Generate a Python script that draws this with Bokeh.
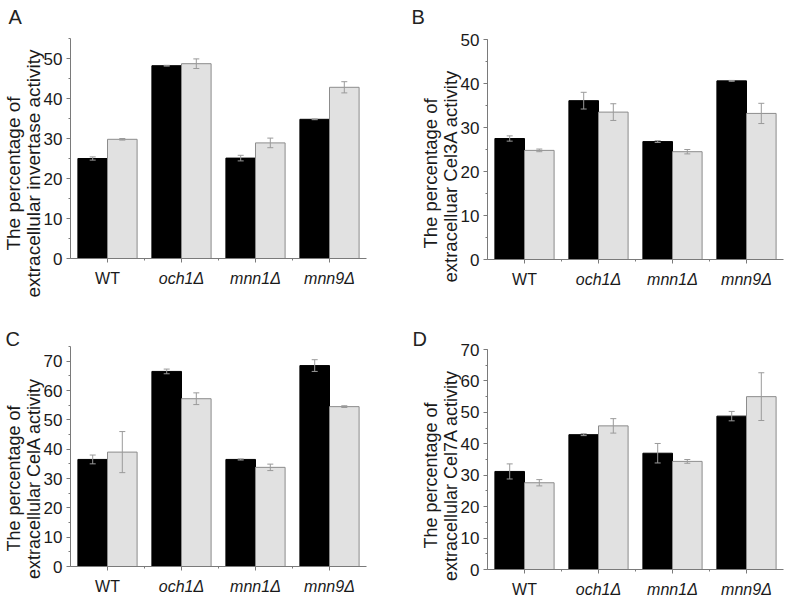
import numpy as np
from bokeh.plotting import figure
from bokeh.models import (Whisker, TeeHead, ColumnDataSource, FixedTicker,
                          SingleIntervalTicker, Range1d)
from bokeh.core.properties import value
from bokeh.layouts import column, row
from bokeh.embed import file_html
from bokeh.resources import INLINE

# ---------------- data ----------------
strains = ["WT", "och1\u0394", "mnn1\u0394", "mnn9\u0394"]
strain_italic = [False, True, True, True]

inv_black = [25.0, 48.2, 25.1, 34.8]
inv_black_err = [0.4, 0.1, 0.7, 0.1]
inv_gray = [29.8, 48.7, 28.9, 42.8]
inv_gray_err = [0.2, 1.2, 1.2, 1.4]

cel3a_black = [27.5, 36.1, 26.8, 40.6]
cel3a_black_err = [0.6, 1.9, 0.2, 0.1]
cel3a_gray = [24.8, 33.5, 24.5, 33.2]
cel3a_gray_err = [0.3, 1.9, 0.5, 2.3]

cela_black = [36.5, 66.5, 36.5, 68.5]
cela_black_err = [1.5, 0.8, 0.2, 2.0]
cela_gray = [39.0, 57.2, 33.8, 54.5]
cela_gray_err = [7.0, 2.0, 1.1, 0.3]

cel7a_black = [31.2, 42.9, 37.0, 48.8]
cel7a_black_err = [2.4, 0.3, 3.1, 1.5]
cel7a_gray = [27.6, 45.7, 34.4, 55.0]
cel7a_gray_err = [1.0, 2.3, 0.6, 7.6]

panel_letters = ["A", "B", "C", "D"]
ylabel_line1 = "The percentage of"
ylabel_line2 = ["extracellular invertase activity", "extracelluar Cel3A  activity",
                "extracellular CelA activity", "extracellular Cel7A activity"]
y_max = [55, 50, 75, 70]

FONT = "Liberation Sans"
TXT = "#1a1a1a"
AX = "#7a7a7a"


def make_panel(idx, black, black_err, gray, gray_err, width, height, frame,
               letter_pos, ylab_center, ylab_size):
    # frame = (left, top, w, h) of the plotting area inside the figure, in px
    fl, ft, fw, fh = frame
    n = len(strains)
    x0, x1 = 0.5, n + 0.5
    ymax = y_max[idx]
    ppx = fw / (x1 - x0)
    ppy = fh / ymax

    def dx(px):  # px offset from the y axis -> data x
        return x0 + px / ppx

    def dy(py):  # px offset above the x axis -> data y
        return py / ppy

    p = figure(width=width, height=height, output_backend="svg", toolbar_location=None,
               title=None,
               x_range=Range1d(x0 - fl / ppx, x1 + (width - fl - fw) / ppx),
               y_range=Range1d(-(height - ft - fh) / ppy, ymax + ft / ppy),
               min_border=0, min_border_left=0, min_border_right=0,
               min_border_top=0, min_border_bottom=0)
    p.outline_line_color = None
    p.grid.visible = False
    p.background_fill_color = "white"
    p.border_fill_color = "white"

    pos = np.arange(1, n + 1, dtype=float)
    w = 0.4
    p.vbar(x=pos - w / 2, top=black, width=w, bottom=0,
           fill_color="black", line_color="black", line_width=1)
    p.vbar(x=pos + w / 2, top=gray, width=w, bottom=0,
           fill_color="#e1e1e1", line_color="#8c8c8c", line_width=1)

    for xs, vals, errs in ((pos - w / 2, black, black_err), (pos + w / 2, gray, gray_err)):
        v = np.array(vals)
        e = np.array(errs)
        src = ColumnDataSource(dict(x=xs, upper=v + e, lower=v - e))
        wk = Whisker(source=src, base="x", upper="upper", lower="lower",
                     line_color="#9a9a9a", line_width=1,
                     upper_head=TeeHead(size=6, line_color="#9a9a9a", line_width=1),
                     lower_head=TeeHead(size=6, line_color="#9a9a9a", line_width=1))
        wk.level = "annotation"
        p.add_layout(wk)

    # x axis, fixed at y = 0
    xa = p.xaxis[0]
    xa.fixed_location = 0
    xa.bounds = (x0, x1)
    xa.ticker = FixedTicker(ticks=list(pos), minor_ticks=list(pos[:-1] + 0.5))
    xa.major_label_text_font_size = "0px"
    xa.major_label_text_alpha = 0
    xa.axis_line_color = AX
    xa.major_tick_line_color = AX
    xa.minor_tick_line_color = AX
    xa.major_tick_in = 0
    xa.major_tick_out = 4
    xa.minor_tick_in = 0
    xa.minor_tick_out = 2

    # y axis, fixed at x = 0.5
    ya = p.yaxis[0]
    ya.fixed_location = x0
    ya.bounds = (0, ymax)
    ya.ticker = SingleIntervalTicker(interval=10, num_minor_ticks=2)
    ya.axis_line_color = AX
    ya.major_tick_line_color = AX
    ya.minor_tick_line_color = AX
    ya.major_tick_in = 0
    ya.major_tick_out = 4
    ya.minor_tick_in = 0
    ya.minor_tick_out = 2
    ya.major_label_standoff = 4
    ya.major_label_text_font = FONT
    ya.major_label_text_font_size = "17px"
    ya.major_label_text_color = TXT

    # category labels
    for style in ("normal", "italic"):
        sel = [i for i in range(n) if (strain_italic[i] == (style == "italic"))]
        p.text(x=[pos[i] for i in sel], y=[dy(-11)] * len(sel),
               text=[strains[i] for i in sel],
               text_align="center", text_baseline="top",
               text_font=value(FONT), text_font_size="16px",
               text_font_style=style, text_color=TXT)

    # y label (two lines)
    p.text(x=[dx(-57), dx(-37)], y=[dy(ylab_center)] * 2,
           text=[ylabel_line1, ylabel_line2[idx]], angle=np.pi / 2,
           text_align="center", text_baseline="middle",
           text_font=value(FONT), text_font_size=ylab_size, text_color=TXT)

    # panel letter
    lx, ly = letter_pos
    p.text(x=[dx(lx)], y=[dy(ly)], text=[panel_letters[idx]],
           text_align="left", text_baseline="alphabetic",
           text_font=value(FONT), text_font_size="20px", text_color="#222222")
    return p


pA = make_panel(0, inv_black, inv_black_err, inv_gray, inv_gray_err,
                388, 300, (70, 38, 296, 220), (-62, 242), 85, "19px")
pB = make_panel(1, cel3a_black, cel3a_black_err, cel3a_gray, cel3a_gray_err,
                399, 300, (99, 39, 296, 220), (-76, 243), 86, "18.5px")
pC = make_panel(2, cela_black, cela_black_err, cela_gray, cela_gray_err,
                388, 296, (70, 46, 296, 220), (-65, 228), 88, "18px")
pD = make_panel(3, cel7a_black, cel7a_black_err, cel7a_gray, cel7a_gray_err,
                399, 296, (99, 49, 296, 220), (-75, 231), 94, "18px")

layout = column(row(pA, pB), row(pC, pD))
open("out.html", "w").write(file_html(layout, INLINE))
